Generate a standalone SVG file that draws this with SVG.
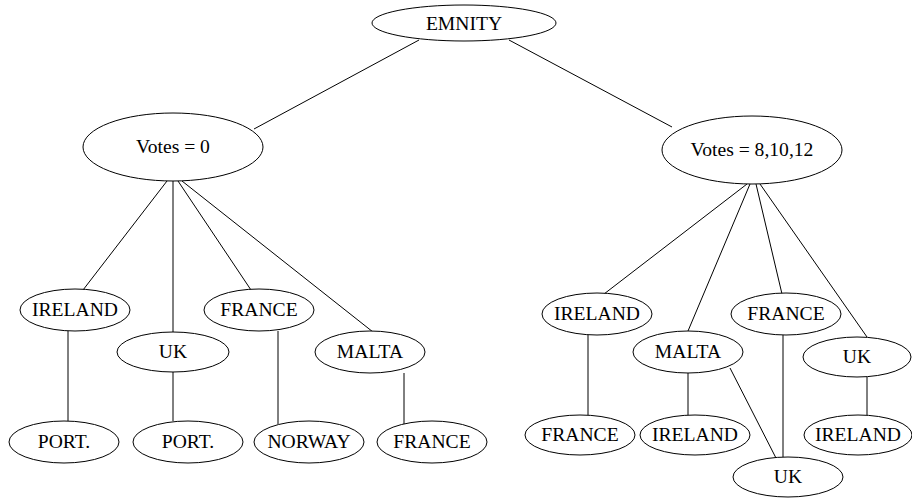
<svg xmlns="http://www.w3.org/2000/svg" width="912" height="498" viewBox="0 0 912 498">
  <style>
    .node ellipse { fill: #ffffff; stroke: #000000; stroke-width: 1; }
    .node text { font-family: "Liberation Serif", "Times New Roman", serif; font-size: 19.6px; fill: #000000; text-anchor: middle; }
    #edges line { stroke: #000000; stroke-width: 1; }
  </style>
  <rect width="912" height="498" fill="#ffffff"/>

  <!-- connectors -->
  <g id="edges">
    <line x1="419" y1="40" x2="254" y2="129"/>
    <line x1="509" y1="40" x2="672" y2="127"/>

    <line x1="167" y1="181" x2="83" y2="290"/>
    <line x1="173" y1="181" x2="173" y2="332"/>
    <line x1="178" y1="181" x2="251" y2="290"/>
    <line x1="182" y1="181" x2="373" y2="332"/>

    <line x1="68" y1="331" x2="68" y2="421"/>
    <line x1="173" y1="372" x2="173" y2="421"/>
    <line x1="278" y1="331" x2="278" y2="424"/>
    <line x1="404" y1="373" x2="404" y2="424"/>

    <line x1="747" y1="184" x2="604" y2="294"/>
    <line x1="750" y1="184" x2="688" y2="331"/>
    <line x1="756" y1="184" x2="782" y2="294"/>
    <line x1="760" y1="184" x2="867" y2="337"/>

    <line x1="588" y1="335" x2="588" y2="415"/>
    <line x1="688" y1="373" x2="688" y2="415"/>
    <line x1="730" y1="368" x2="777" y2="460"/>
    <line x1="783" y1="335" x2="783" y2="457"/>
    <line x1="867" y1="377" x2="867" y2="415"/>
  </g>

  <!-- root -->
  <g id="n-emnity" class="node"><ellipse cx="464" cy="23" rx="92" ry="18"/><text x="464" y="30">EMNITY</text></g>

  <!-- second level -->
  <g id="n-votes0" class="node"><ellipse cx="173" cy="147" rx="90" ry="34"/><text x="173" y="153">Votes = 0</text></g>
  <g id="n-votes81012" class="node"><ellipse cx="752" cy="150" rx="90" ry="34"/><text x="752" y="156">Votes = 8,10,12</text></g>

  <!-- third level, left -->
  <g id="n-l-ireland" class="node"><ellipse cx="75" cy="310" rx="55" ry="21"/><text x="75" y="316">IRELAND</text></g>
  <g id="n-l-uk" class="node"><ellipse cx="173" cy="352" rx="56" ry="20"/><text x="173" y="358">UK</text></g>
  <g id="n-l-france" class="node"><ellipse cx="259" cy="310" rx="55" ry="21"/><text x="259" y="316">FRANCE</text></g>
  <g id="n-l-malta" class="node"><ellipse cx="370" cy="352" rx="55" ry="21"/><text x="370" y="358">MALTA</text></g>

  <!-- fourth level, left -->
  <g id="n-l-ireland-port" class="node"><ellipse cx="64" cy="442" rx="55" ry="21"/><text x="64" y="448">PORT.</text></g>
  <g id="n-l-uk-port" class="node"><ellipse cx="188" cy="442" rx="55" ry="21"/><text x="188" y="448">PORT.</text></g>
  <g id="n-l-france-norway" class="node"><ellipse cx="309" cy="442" rx="55" ry="21"/><text x="309" y="448">NORWAY</text></g>
  <g id="n-l-malta-france" class="node"><ellipse cx="432" cy="442" rx="55" ry="21"/><text x="432" y="448">FRANCE</text></g>

  <!-- third level, right -->
  <g id="n-r-ireland" class="node"><ellipse cx="597" cy="314" rx="55" ry="21"/><text x="597" y="320">IRELAND</text></g>
  <g id="n-r-malta" class="node"><ellipse cx="688" cy="352" rx="55" ry="21"/><text x="688" y="358">MALTA</text></g>
  <g id="n-r-france" class="node"><ellipse cx="786" cy="314" rx="55" ry="21"/><text x="786" y="320">FRANCE</text></g>
  <g id="n-r-uk" class="node"><ellipse cx="857" cy="357" rx="54" ry="20"/><text x="857" y="363">UK</text></g>

  <!-- fourth level, right -->
  <g id="n-r-ireland-france" class="node"><ellipse cx="580" cy="435" rx="55" ry="20"/><text x="580" y="441">FRANCE</text></g>
  <g id="n-r-malta-ireland" class="node"><ellipse cx="695" cy="435" rx="55" ry="20"/><text x="695" y="441">IRELAND</text></g>
  <g id="n-r-uk-ireland" class="node"><ellipse cx="858" cy="435" rx="54" ry="20"/><text x="858" y="441">IRELAND</text></g>
  <g id="n-r-uk-shared" class="node"><ellipse cx="788" cy="477" rx="55" ry="20"/><text x="788" y="483">UK</text></g>
</svg>
